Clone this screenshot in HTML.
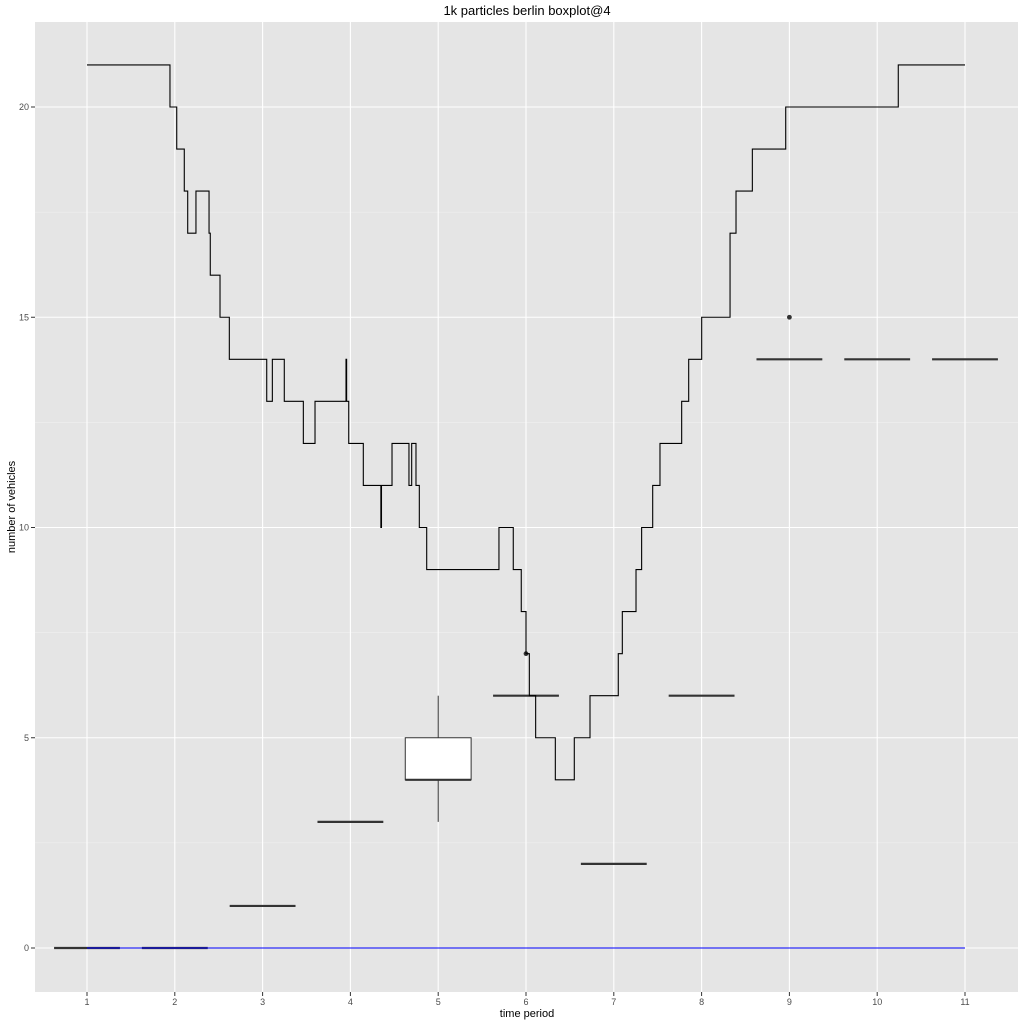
<!DOCTYPE html>
<html><head><meta charset="utf-8"><style>
html,body{margin:0;padding:0;background:#fff;}
svg{display:block;font-family:"Liberation Sans",sans-serif;}
</style></head><body>
<svg id="chart" width="1024" height="1024" viewBox="0 0 1024 1024" xmlns="http://www.w3.org/2000/svg">
<text x="527" y="15" text-anchor="middle" font-size="13" fill="#000">1k particles berlin boxplot@4</text>
<rect x="35" y="22" width="983" height="970" fill="#e5e5e5"/>
<g id="grid"></g>
<g id="marks"></g>
<g id="axes"></g>
<text x="527" y="1017" text-anchor="middle" font-size="11" fill="#000">time period</text>
<text x="0" y="0" transform="translate(15,507) rotate(-90)" text-anchor="middle" font-size="11" fill="#000">number of vehicles</text>
</svg>
<script>
const categories = [1,2,3,4,5,6,7,8,9,10,11];
const boxLower  = [0,0,1,3,4,6,2,6,14,14,14];
const boxMedian = [0,0,1,3,4,6,2,6,14,14,14];
const boxUpper  = [0,0,1,3,5,6,2,6,14,14,14];
const whiskLow  = [0,0,1,3,3,6,2,6,14,14,14];
const whiskHigh = [0,0,1,3,6,6,2,6,14,14,14];
const outlierX = [6,9];
const outlierY = [7,15];
const stepX = [1,1.945,2.022,2.108,2.147,2.241,2.390,2.404,2.515,2.621,3.047,3.111,3.247,3.464,3.597,3.950,3.957,3.981,4.147,4.347,4.354,4.474,4.667,4.698,4.747,4.785,4.869,5.692,5.855,5.946,6.0,6.038,6.110,6.334,6.550,6.729,7.051,7.097,7.253,7.317,7.443,7.526,7.773,7.853,8.001,8.324,8.392,8.578,8.958,10.240];
const stepY = [21,20,19,18,17,18,17,16,15,14,13,14,13,12,13,14,13,12,11,10,11,12,11,12,11,10,9,10,9,8,7,6,5,4,5,6,7,8,9,10,11,12,13,14,15,17,18,19,20,21];
const stepEnd = 11;
const baselineX = [1,11];
const baselineY = [0,0];
const yTicks = [0,5,10,15,20];
const yMinor = [2.5,7.5,12.5,17.5];
const xTicks = [1,2,3,4,5,6,7,8,9,10,11];

const NS="http://www.w3.org/2000/svg";
const X = v => 87 + (v-1)*87.8;
const Y = v => 948 - v*42.05;
function mk(tag, attrs, parent){const e=document.createElementNS(NS,tag);for(const k in attrs)e.setAttribute(k,attrs[k]);parent.appendChild(e);return e;}
const grid=document.getElementById('grid'), marks=document.getElementById('marks'), axes=document.getElementById('axes');

yMinor.forEach(v=>{const l=mk('line',{x1:35,x2:1018,y1:Y(v),y2:Y(v),stroke:'#f2f2f2','stroke-width':0.6},grid);

});
yTicks.forEach(v=>{const l=mk('line',{x1:35,x2:1018,y1:Y(v),y2:Y(v),stroke:'#fff','stroke-width':1.1},grid);


const t=mk('line',{x1:31,x2:35,y1:Y(v),y2:Y(v),stroke:'#333','stroke-width':1},axes);


const tx=mk('text',{x:29,y:Y(v)+3,'text-anchor':'end','font-size':9,fill:'#4d4d4d'},axes);tx.textContent=v;

});
xTicks.forEach(v=>{const l=mk('line',{x1:X(v),x2:X(v),y1:22,y2:992,stroke:'#fff','stroke-width':1.1},grid);


const t=mk('line',{x1:X(v),x2:X(v),y1:992,y2:996,stroke:'#333','stroke-width':1},axes);


const tx=mk('text',{x:X(v),y:1005,'text-anchor':'middle','font-size':9,fill:'#4d4d4d'},axes);tx.textContent=v;

});

// boxplots
categories.forEach((c,i)=>{
  const g=mk('g',{},marks);
  
  
  const x0=X(c-0.375), x1=X(c+0.375);
  if(whiskHigh[i]>boxUpper[i]) mk('line',{x1:X(c),x2:X(c),y1:Y(boxUpper[i]),y2:Y(whiskHigh[i]),stroke:'#333','stroke-width':1},g);
  if(whiskLow[i]<boxLower[i]) mk('line',{x1:X(c),x2:X(c),y1:Y(boxLower[i]),y2:Y(whiskLow[i]),stroke:'#333','stroke-width':1},g);
  mk('rect',{x:x0,y:Y(boxUpper[i]),width:x1-x0,height:Math.max(0,Y(boxLower[i])-Y(boxUpper[i])),fill:'#fff',stroke:'#333','stroke-width':1},g);
  mk('line',{x1:x0,x2:x1,y1:Y(boxMedian[i]),y2:Y(boxMedian[i]),stroke:'#333','stroke-width':2.2},g);
});
outlierX.forEach((v,i)=>{const c=mk('circle',{cx:X(v),cy:Y(outlierY[i]),r:2.4,fill:'#333'},marks);

});

// baseline
const bl=mk('line',{x1:X(baselineX[0]),x2:X(baselineX[1]),y1:Y(baselineY[0]),y2:Y(baselineY[1]),stroke:'#0000ff','stroke-width':1},marks);



// step line
let d='M'+X(stepX[0])+','+Y(stepY[0]);
for(let i=1;i<stepX.length;i++){d+=' H'+X(stepX[i])+' V'+Y(stepY[i]);}
d+=' H'+X(stepEnd);
const sl=mk('path',{d:d,fill:'none',stroke:'#000','stroke-width':1.1},marks);


</script>
</body></html>
